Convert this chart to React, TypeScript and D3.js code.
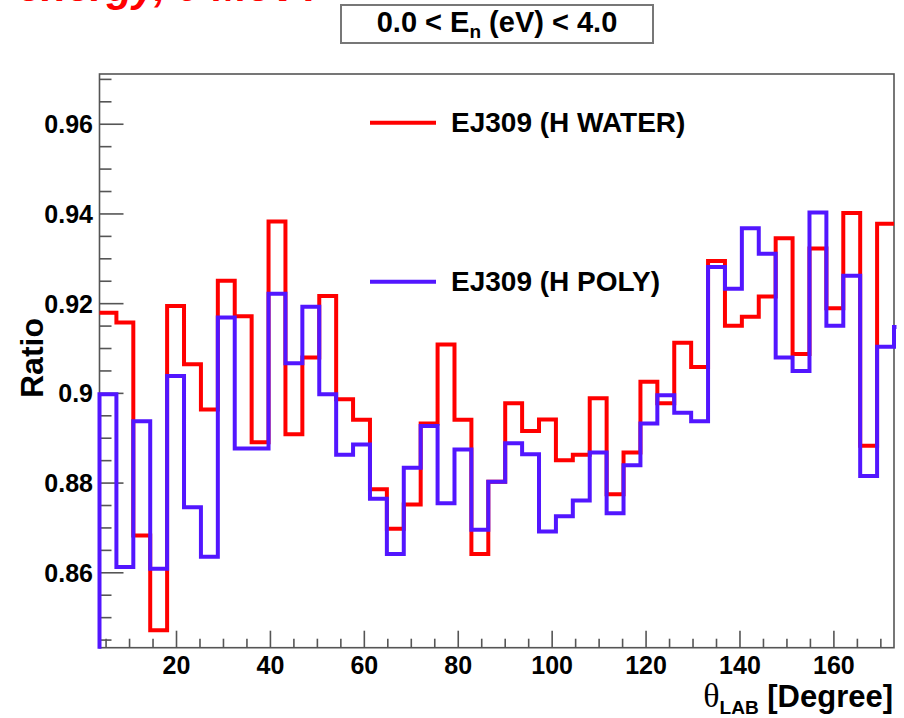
import React from "react";
import * as d3 from "d3";

// histogram binning (degrees)
const X_MIN = 3.6;
const X_MAX = 172.8;
const BIN_WIDTH = 3.6;

// EJ309 (H WATER) ratio per bin, 47 bins from 3.6 to 172.8
const waterRatio = [
  0.918, 0.9158, 0.8683, 0.8472, 0.9195, 0.9065, 0.8964, 0.9251, 0.9172, 0.8891,
  0.9383, 0.8909, 0.908, 0.9217, 0.8987, 0.8941, 0.8786, 0.8698, 0.8752, 0.8933,
  0.9109, 0.8941, 0.8642, 0.8803, 0.8978, 0.8916, 0.8942, 0.8851, 0.8863, 0.8989,
  0.8775, 0.8868, 0.9026, 0.8978, 0.9113, 0.9059, 0.9295, 0.9151, 0.9171, 0.9216,
  0.9346, 0.9088, 0.9323, 0.919, 0.9402, 0.8883, 0.9378,
];

// EJ309 (H POLY) ratio per bin
const polyRatio = [
  0.8998, 0.8613, 0.8938, 0.8609, 0.9039, 0.8746, 0.8636, 0.9169, 0.8877, 0.8877,
  0.9222, 0.9067, 0.9193, 0.8998, 0.8863, 0.8886, 0.8765, 0.8642, 0.8834, 0.8927,
  0.8755, 0.8875, 0.8696, 0.8803, 0.8889, 0.8864, 0.8692, 0.8726, 0.8761, 0.8868,
  0.8733, 0.884, 0.8933, 0.8996, 0.8957, 0.8938, 0.9282, 0.9233, 0.9368, 0.9311,
  0.908, 0.905, 0.9403, 0.9151, 0.9262, 0.8816, 0.9104,
];
// neighbouring bins outside the shown range (only their step edges show)
const polyBefore = 0.84;
const polyAfter = 0.9148;

const yMajorTicks = [0.86, 0.88, 0.9, 0.92, 0.94, 0.96];
const yTickLabels = ["0.86", "0.88", "0.9", "0.92", "0.94", "0.96"];
const xMajorTicks = [20, 40, 60, 80, 100, 120, 140, 160];

const series = [
  { name: "EJ309 (H WATER)", values: waterRatio, color: "#ff0000" },
  { name: "EJ309 (H POLY)", values: polyRatio, color: "#5216ff" },
];

const W = 904;
const H = 718;
const frame = { left: 99.5, right: 894, top: 74, bottom: 647.7 };
const FONT = "'Liberation Sans', Arial, Helvetica, sans-serif";

type Pt = [number, number];

function stepPoints(values: number[], before?: number, after?: number): Pt[] {
  const pts: Pt[] = [];
  if (before !== undefined) pts.push([X_MIN - BIN_WIDTH, before]);
  values.forEach((v, i) => pts.push([X_MIN + i * BIN_WIDTH, v]));
  const end = X_MIN + values.length * BIN_WIDTH;
  pts.push([end, values[values.length - 1]]);
  if (after !== undefined) {
    pts.push([end, after]);
    pts.push([end + BIN_WIDTH, after]);
  }
  return pts;
}

export default function App() {
  const x = d3.scaleLinear().domain([X_MIN, X_MAX]).range([frame.left, frame.right]);
  const y = d3.scaleLinear().domain([0.8433, 0.9712]).range([frame.bottom, frame.top]);

  const line = d3
    .line<Pt>()
    .x((d) => x(d[0]))
    .y((d) => y(d[1]))
    .curve(d3.curveStepAfter);

  const redPath = line(stepPoints(waterRatio)) || "";
  const bluePath = line(stepPoints(polyRatio, polyBefore, polyAfter)) || "";

  const yMinor = d3.range(0.845, 0.9711, 0.005).filter(
    (v) => !yMajorTicks.some((m) => Math.abs(m - v) < 1e-6)
  );
  const xMinor = d3.range(5, 171, 5).filter((v) => v % 20 !== 0);

  return (
    <svg
      width={W}
      height={H}
      style={{ position: "absolute", left: 0, top: 0, background: "#fff" }}
      fontFamily={FONT}
    >
      <defs>
        <clipPath id="plotClip">
          <rect x={frame.left - 2.5} y={frame.top} width={frame.right - frame.left + 5} height={frame.bottom - frame.top + 1} />
        </clipPath>
      </defs>

      {/* cut-off slide heading */}
      <text x={18} y={1} fill="#ff0000" fontSize={42} fontWeight="bold" fontStyle="italic">
        energy, 0 MeV?
      </text>

      {/* title box */}
      <rect x={341} y={5} width={312} height={38} fill="#fff" stroke="#777" strokeWidth={2} />
      <text x={497} y={32} textAnchor="middle" fontSize={29} fontWeight="bold" fill="#000">
        0.0 &lt; E<tspan fontSize={19} dy={6}>n</tspan>
        <tspan dy={-6}> (eV) &lt; 4.0</tspan>
      </text>

      {/* frame */}
      <rect
        x={frame.left}
        y={frame.top}
        width={frame.right - frame.left}
        height={frame.bottom - frame.top}
        fill="none"
        stroke="#555"
        strokeWidth={1.6}
      />

      {/* y axis ticks */}
      {yMajorTicks.map((t, i) => (
        <g key={"ym" + t}>
          <line x1={frame.left} x2={frame.left + 24} y1={y(t)} y2={y(t)} stroke="#555" strokeWidth={1.6} />
          <text x={93} y={y(t) + 9} textAnchor="end" fontSize={25} fontWeight="bold" fill="#000">
            {yTickLabels[i]}
          </text>
        </g>
      ))}
      {yMinor.map((t) => (
        <line key={"yn" + t} x1={frame.left} x2={frame.left + 12} y1={y(t)} y2={y(t)} stroke="#555" strokeWidth={1.6} />
      ))}

      {/* x axis ticks */}
      {xMajorTicks.map((t) => (
        <g key={"xm" + t}>
          <line x1={x(t)} x2={x(t)} y1={frame.bottom} y2={frame.bottom - 17} stroke="#555" strokeWidth={1.6} />
          <text x={x(t)} y={674} textAnchor="middle" fontSize={25} fontWeight="bold" fill="#000">
            {t}
          </text>
        </g>
      ))}
      {xMinor.map((t) => (
        <line key={"xn" + t} x1={x(t)} x2={x(t)} y1={frame.bottom} y2={frame.bottom - 9} stroke="#555" strokeWidth={1.6} />
      ))}

      {/* histograms */}
      <g clipPath="url(#plotClip)" fill="none" strokeWidth={4}>
        <path d={redPath} stroke={series[0].color} />
        <path d={bluePath} stroke={series[1].color} />
      </g>

      {/* legend */}
      {series.map((s, i) => (
        <g key={s.name} transform={`translate(0, ${i === 0 ? 122.7 : 281.7})`}>
          <line x1={370} x2={436} y1={0} y2={0} stroke={s.color} strokeWidth={4} />
          <text x={451} y={9.5} fontSize={28} fontWeight="bold" fill="#000">
            {s.name}
          </text>
        </g>
      ))}

      {/* axis titles */}
      <text
        transform="translate(43, 358) rotate(-90)"
        textAnchor="middle"
        fontSize={32}
        fontWeight="bold"
        fill="#000"
      >
        Ratio
      </text>
      <text x={893} y={707} textAnchor="end" fontSize={31} fontWeight="bold" fill="#000">
        <tspan fontFamily="'Liberation Serif', 'DejaVu Serif', serif" fontWeight="normal" fontSize={34}>
          θ
        </tspan>
        <tspan fontSize={19} dy={7}>LAB</tspan>
        <tspan dy={-7}> [Degree]</tspan>
      </text>
    </svg>
  );
}
